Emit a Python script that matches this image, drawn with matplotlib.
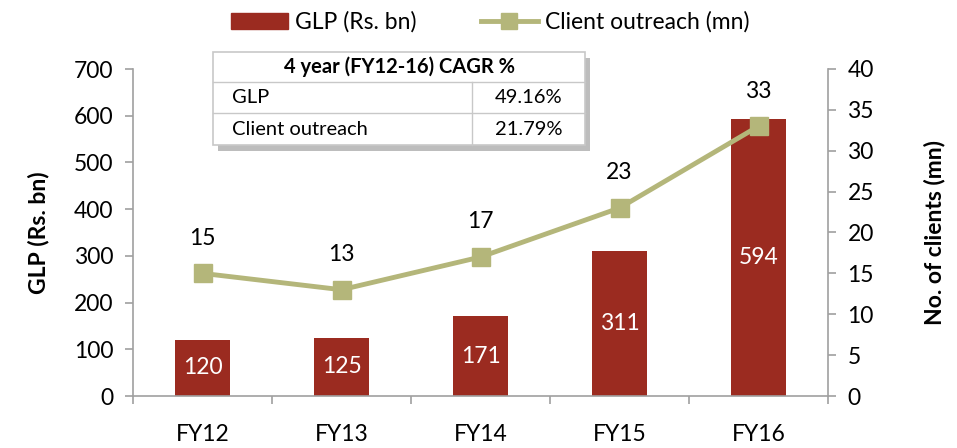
import matplotlib
matplotlib.use("Agg")
import matplotlib.pyplot as plt
import numpy as np
from matplotlib.patches import Rectangle
from matplotlib.lines import Line2D

plt.rcParams['font.family'] = ['Lato', 'DejaVu Sans']

categories = ["FY12", "FY13", "FY14", "FY15", "FY16"]
glp = [120, 125, 171, 311, 594]
clients = [15, 13, 17, 23, 33]
table_title = "4 year (FY12-16) CAGR %"
table_rows = [["GLP", "49.16%"], ["Client outreach", "21.79%"]]

bar_color = "#9B2B20"
line_color = "#B4B67A"
axis_grey = "#A0A0A0"
FS = 16.5

fig = plt.figure(figsize=(9.57, 4.48), dpi=100)
ax = fig.add_axes([133/957, 52/448, (828-133)/957, (396-69)/448])
ax2 = ax.twinx()

x = np.arange(len(categories))
ax.bar(x, glp, width=0.4, color=bar_color, zorder=2)
for xi, v in zip(x, glp):
    ax.text(xi, v/2, str(v), ha='center', va='center', color='white', fontsize=FS)

ax2.plot(x, clients, color=line_color, lw=3.5, marker='s', ms=13, zorder=3)
for xi, v in zip(x, clients):
    ax2.text(xi, v + 3.0, str(v), ha='center', va='bottom', color='black', fontsize=FS)

ax.set_xlim(-0.5, 4.5)
ax.set_ylim(0, 700)
ax2.set_ylim(0, 40)
ax.set_yticks(range(0, 701, 100))
ax2.set_yticks(range(0, 41, 5))
ax.set_xticks(x)
ax.set_xticklabels(categories)
ax.set_xticks(np.arange(-0.5, 4.6, 1), minor=True)
ax.tick_params(axis='x', which='major', length=0, labelsize=FS, pad=20)
ax.tick_params(axis='x', which='minor', length=6, color=axis_grey, width=1.2)
ax.tick_params(axis='y', length=6, color=axis_grey, width=1.2, labelsize=FS, pad=8)
ax2.tick_params(axis='y', length=6, color=axis_grey, width=1.2, labelsize=FS, pad=8)

for a in (ax, ax2):
    for s in a.spines.values():
        s.set_visible(False)
ax.spines['left'].set_visible(True)
ax.spines['left'].set_color(axis_grey)
ax.spines['left'].set_linewidth(1.2)
ax.spines['bottom'].set_visible(True)
ax.spines['bottom'].set_color(axis_grey)
ax.spines['bottom'].set_linewidth(1.2)
ax2.spines['right'].set_visible(True)
ax2.spines['right'].set_color(axis_grey)
ax2.spines['right'].set_linewidth(1.2)

ax.set_ylabel("GLP (Rs. bn)", fontsize=16.5, fontweight='bold', labelpad=18)
ax2.set_ylabel("No. of clients (mn)", fontsize=16.5, fontweight='bold', labelpad=36)

# Legend
handles = [Rectangle((0, 0), 1, 1, color=bar_color),
           Line2D([0], [0], color=line_color, lw=3.5, marker='s', ms=11)]
fig.legend(handles, ["GLP (Rs. bn)", "Client outreach (mn)"], loc='center',
           bbox_to_anchor=(490/957, 1 - 22/448), ncol=2, frameon=False,
           fontsize=FS, handlelength=2.5, handletextpad=0.3, columnspacing=2.8)

# CAGR table
def fx(px):
    return px / 957
def fy(py):
    return 1 - py / 448

x0, x1, xm = 213, 585, 472
y0, y1, y2, y3 = 52, 82, 113, 145
fig.patches.append(Rectangle((fx(x0 + 5), fy(y3 + 6)), fx(x1 - x0), (y3 - y0) / 448,
                             transform=fig.transFigure, facecolor='#BDBDBD',
                             edgecolor='none', zorder=5))
fig.patches.append(Rectangle((fx(x0), fy(y3)), fx(x1 - x0), (y3 - y0) / 448,
                             transform=fig.transFigure, facecolor='white',
                             edgecolor='#C8C8C8', lw=1.2, zorder=6))
for yy in (y1, y2):
    fig.lines.append(Line2D([fx(x0), fx(x1)], [fy(yy), fy(yy)], transform=fig.transFigure,
                            color='#C8C8C8', lw=1, zorder=7))
fig.lines.append(Line2D([fx(xm), fx(xm)], [fy(y1), fy(y3)], transform=fig.transFigure,
                        color='#C8C8C8', lw=1, zorder=7))
fig.text(fx((x0 + x1) / 2), fy((y0 + y1) / 2), table_title, ha='center', va='center',
         fontsize=14.5, fontweight='bold', zorder=8)
for (lab, val), (ya, yb) in zip(table_rows, [(y1, y2), (y2, y3)]):
    fig.text(fx(x0 + 19), fy((ya + yb) / 2), lab, ha='left', va='center', fontsize=14.5, zorder=8)
    fig.text(fx(x1 - 23), fy((ya + yb) / 2), val, ha='right', va='center', fontsize=14.5, zorder=8)

fig.savefig("out.png", dpi=100)
